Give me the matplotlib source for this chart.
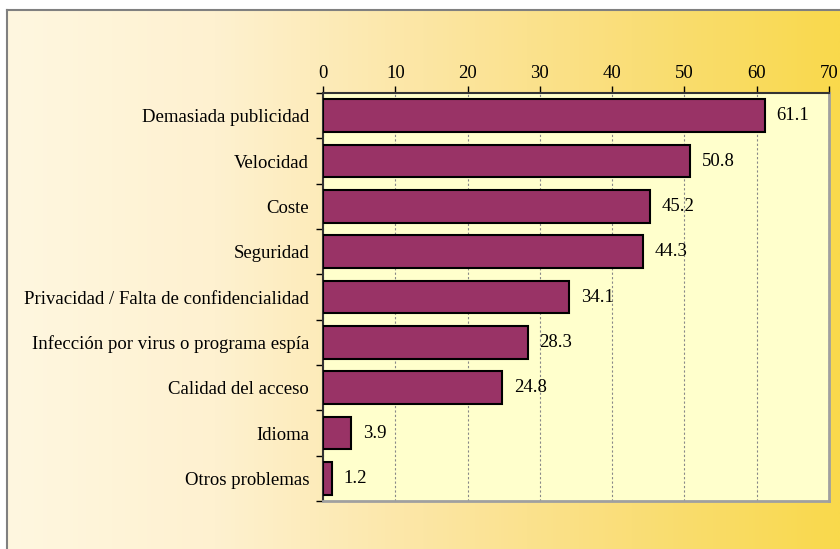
import matplotlib
matplotlib.use("Agg")
import matplotlib.pyplot as plt
import matplotlib.colors as mcolors
import numpy as np

categories = [
    "Demasiada publicidad",
    "Velocidad",
    "Coste",
    "Seguridad",
    "Privacidad / Falta de confidencialidad",
    "Infección por virus o programa espía",
    "Calidad del acceso",
    "Idioma",
    "Otros problemas",
]
values = [61.1, 50.8, 45.2, 44.3, 34.1, 28.3, 24.8, 3.9, 1.2]
xticks = [0, 10, 20, 30, 40, 50, 60, 70]

plt.rcParams["font.family"] = ["Liberation Serif", "DejaVu Serif"]
FS = 13.5

fig = plt.figure(figsize=(8.4, 5.49), dpi=100)

# background panel with horizontal gradient
bg = fig.add_axes([7 / 840, 0, 1 - 7 / 840, 1 - 10 / 549])
cmap = mcolors.LinearSegmentedColormap.from_list(
    "bg", [(0.0, "#FFF7E0"), (0.25, "#FEF1D0"), (0.5, "#FCE6A4"),
           (0.75, "#FADE78"), (1.0, "#F9D94C")])
grad = np.linspace(0, 1, 512).reshape(1, -1)
bg.imshow(grad, aspect="auto", cmap=cmap, extent=[0, 1, 0, 1])
bg.set_xlim(0, 1)
bg.set_ylim(0, 1)
bg.set_xticks([])
bg.set_yticks([])
for s in bg.spines.values():
    s.set_color("#808080")
    s.set_linewidth(1.5)
bg.spines["right"].set_visible(False)
bg.spines["bottom"].set_visible(False)

ax = fig.add_axes([323 / 840, 1 - 501 / 549, (829 - 323) / 840, (501 - 93) / 549])
ax.set_facecolor("#FFFFCC")

y = np.arange(len(categories))
ax.barh(y, values, height=0.72, color="#993366", edgecolor="black", linewidth=1.5, zorder=3)
for yi, v in zip(y, values):
    ax.text(v + 1.6, yi, f"{v}", va="center", ha="left", fontsize=FS, zorder=4)

ax.set_xlim(0, 70)
ax.set_ylim(len(categories) - 0.5, -0.5)
ax.xaxis.tick_top()
ax.set_xticks(xticks)
ax.set_xticklabels([str(t) for t in xticks], fontsize=FS)
ax.tick_params(axis="x", length=5, width=1, pad=3, direction="out")
ax.grid(axis="x", linestyle=(0, (2, 2)), color="#888888", linewidth=0.8, zorder=1)

ax.set_yticks(y)
ax.set_yticklabels(categories, fontsize=FS)
ax.tick_params(axis="y", which="major", length=0, pad=10)
ax.set_yticks(np.arange(-0.5, len(categories), 1), minor=True)
ax.tick_params(axis="y", which="minor", length=5, width=1, direction="out")

ax.spines["top"].set_color("#333333")
ax.spines["top"].set_linewidth(1.5)
ax.spines["left"].set_color("#333333")
ax.spines["left"].set_linewidth(1.5)
ax.spines["right"].set_color("#A0A0A0")
ax.spines["right"].set_linewidth(2)
ax.spines["bottom"].set_color("#A0A0A0")
ax.spines["bottom"].set_linewidth(2)

fig.savefig("out.png", dpi=100)
